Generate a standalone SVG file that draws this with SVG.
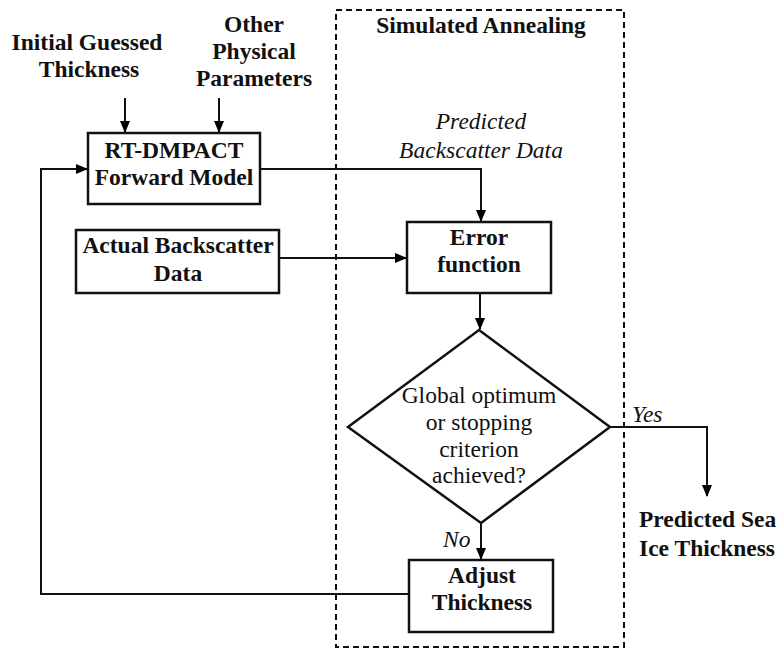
<svg xmlns="http://www.w3.org/2000/svg" width="779" height="649" viewBox="0 0 779 649">
<defs>
<marker id="ah" markerWidth="12" markerHeight="12" refX="11" refY="6" orient="auto" markerUnits="userSpaceOnUse">
<path d="M0,1 L12,6 L0,11 Z" fill="#000"/>
</marker>
<style>
.b{font-family:"Liberation Serif","Times New Roman",serif;font-weight:bold;font-size:23.5px;fill:#111;text-anchor:middle}
.bl{font-family:"Liberation Serif","Times New Roman",serif;font-weight:bold;font-size:23.5px;fill:#111;text-anchor:start}
.r{font-family:"Liberation Serif","Times New Roman",serif;font-size:23.5px;fill:#111;text-anchor:middle}
.i{font-family:"Liberation Serif","Times New Roman",serif;font-style:italic;font-size:23.5px;fill:#111}
.box{fill:#fff;stroke:#111;stroke-width:2.5}
.ln{fill:none;stroke:#111;stroke-width:2}
</style>
</defs>
<rect width="779" height="649" fill="#fff"/>
<g id="sa-region">
<rect x="336" y="10" width="288" height="637" fill="none" stroke="#111" stroke-width="2" stroke-dasharray="6,4"/>
<text class="b" x="481" y="33">Simulated Annealing</text>
</g>
<g id="connectors">
<path class="ln" d="M125,98 V132" marker-end="url(#ah)"/>
<path class="ln" d="M219,98 V132" marker-end="url(#ah)"/>
<path class="ln" d="M260,169 H481 V221" marker-end="url(#ah)"/>
<path class="ln" d="M279,258 H406" marker-end="url(#ah)"/>
<path class="ln" d="M480,293 V329" marker-end="url(#ah)"/>
<path class="ln" d="M481,523 V559" marker-end="url(#ah)"/>
<path class="ln" d="M610,427 H707 V496" marker-end="url(#ah)"/>
<path class="ln" d="M409,594 H41 V169 H87" marker-end="url(#ah)"/>
<text class="i" x="481" y="129" text-anchor="middle">Predicted</text>
<text class="i" x="481" y="158" text-anchor="middle">Backscatter Data</text>
<text class="i" x="632" y="422">Yes</text>
<text class="i" x="443" y="547">No</text>
</g>
<g id="input-thickness">
<text class="b" x="87" y="50">Initial Guessed</text>
<text class="b" x="89" y="77">Thickness</text>
</g>
<g id="input-params">
<text class="b" x="254" y="32">Other</text>
<text class="b" x="254" y="59">Physical</text>
<text class="b" x="254" y="86">Parameters</text>
</g>
<g id="forward-model">
<rect class="box" x="88" y="133" width="172" height="71"/>
<text class="b" x="174" y="158">RT-DMPACT</text>
<text class="b" x="174" y="185">Forward Model</text>
</g>
<g id="actual-data">
<rect class="box" x="76" y="230" width="203" height="63"/>
<text class="b" x="178" y="253">Actual Backscatter</text>
<text class="b" x="178" y="281">Data</text>
</g>
<g id="error-function">
<rect class="box" x="407" y="222" width="144" height="71"/>
<text class="b" x="479" y="245">Error</text>
<text class="b" x="479" y="272">function</text>
</g>
<g id="decision">
<polygon class="box" points="479,330 610,427 481,523 348,427"/>
<text class="r" x="479" y="403">Global optimum</text>
<text class="r" x="479" y="430">or stopping</text>
<text class="r" x="479" y="457">criterion</text>
<text class="r" x="479" y="483">achieved?</text>
</g>
<g id="adjust-thickness">
<rect class="box" x="409" y="560" width="144" height="72"/>
<text class="b" x="482" y="583">Adjust</text>
<text class="b" x="482" y="610">Thickness</text>
</g>
<g id="output">
<text class="bl" x="639" y="527">Predicted Sea</text>
<text class="bl" x="639" y="556">Ice Thickness</text>
</g>
</svg>
